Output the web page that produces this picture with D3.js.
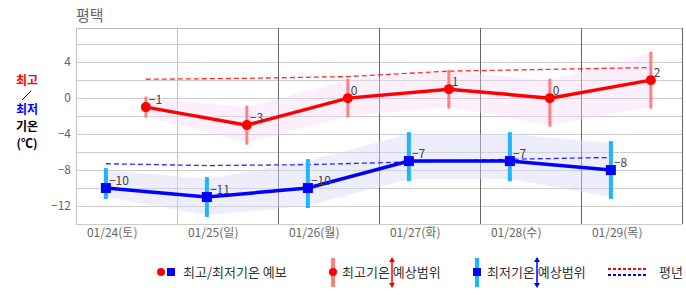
<!DOCTYPE html>
<html>
<head>
<meta charset="utf-8">
<script src="https://cdn.jsdelivr.net/npm/d3@7"></script>
<style>
  body { margin: 0; background: #fff; }
  text { font-family: "Noto Sans CJK KR", "DejaVu Sans", sans-serif; }
</style>
</head>
<body>
<svg id="chart"></svg>
<script>
// data
const days = ['01/24(토)', '01/25(일)', '01/26(월)', '01/27(화)', '01/28(수)', '01/29(목)'];
const maxTemp = [-1, -3, 0, 1, 0, 2];
const minTemp = [-10, -11, -10, -7, -7, -8];
const maxLow = [-2, -5, -2, -1, -3, -1];
const maxHigh = [0, -1, 2, 3, 2, 5];
const minLow = [-11, -13, -12, -9, -9, -11];
const minHigh = [-8, -9, -7, -4, -4, -5];
const normMax = [2.1, 2.2, 2.4, 3.0, 3.2, 3.4];
const normMin = [-7.3, -7.5, -7.4, -7.1, -6.8, -6.6];
const yTicks = [4, 0, -4, -8, -12];
const minHour = 7.1, maxHour = 16.6, labelHour = 8.6;

const width = 686, height = 295;
const svg = d3.select('#chart').attr('width', width).attr('height', height);

const x = d3.scaleLinear().domain([0, 24 * days.length]).range([76, 682]);
const y = d3.scaleLinear().domain([-14, 7.8]).range([224, 28]);

const rows = days.map((d, i) => ({
    i, day: d,
    xmin: x(i * 24 + minHour), xmax: x(i * 24 + maxHour),
    tmax: maxTemp[i], tmin: minTemp[i],
    maxLow: maxLow[i], maxHigh: maxHigh[i],
    minLow: minLow[i], minHigh: minHigh[i],
    nmax: normMax[i], nmin: normMin[i]
}));

// grid
const grid = svg.append('g');
grid.selectAll('.hgrid')
    .data(d3.range(-14, 8, 2))
    .join('line')
    .attr('x1', 76).attr('x2', 682)
    .attr('y1', d => Math.round(y(d)) + 0.5).attr('y2', d => Math.round(y(d)) + 0.5)
    .attr('stroke', '#cccccc');
grid.append('line')
    .attr('x1', 76).attr('x2', 682).attr('y1', 28.5).attr('y2', 28.5)
    .attr('stroke', '#bbbbbb');
grid.selectAll('.vgrid')
    .data(d3.range(0, days.length + 1))
    .join('line')
    .attr('x1', d => Math.round(x(d * 24)) + 0.5).attr('x2', d => Math.round(x(d * 24)) + 0.5)
    .attr('y1', 28).attr('y2', 224)
    .attr('stroke', d => d < 2 ? '#c4c4c4' : '#666666');

// range bands
svg.append('path')
    .datum(rows)
    .attr('fill', '#f7d6f7').attr('fill-opacity', 0.4)
    .attr('d', d3.area().x(d => d.xmax).y0(d => y(d.maxLow)).y1(d => y(d.maxHigh)));
svg.append('path')
    .datum(rows)
    .attr('fill', '#d8d8f7').attr('fill-opacity', 0.45)
    .attr('d', d3.area().x(d => d.xmin).y0(d => y(d.minLow)).y1(d => y(d.minHigh)));

// normal lines
svg.append('path')
    .datum(rows)
    .attr('fill', 'none').attr('stroke', '#ff2a2a').attr('stroke-width', 1.3)
    .attr('stroke-dasharray', '5,3')
    .attr('d', d3.line().x(d => d.xmax).y(d => y(d.nmax)));
svg.append('path')
    .datum(rows)
    .attr('fill', 'none').attr('stroke', '#2a2aff').attr('stroke-width', 1.3)
    .attr('stroke-dasharray', '5,3')
    .attr('d', d3.line().x(d => d.xmin).y(d => y(d.nmin)));

// range bars
svg.selectAll('.maxbar')
    .data(rows)
    .join('line')
    .attr('x1', d => d.xmax).attr('x2', d => d.xmax)
    .attr('y1', d => y(d.maxHigh)).attr('y2', d => y(d.maxLow))
    .attr('stroke', '#ff8080').attr('stroke-width', 3).attr('stroke-linecap', 'square');
svg.selectAll('.minbar')
    .data(rows)
    .join('line')
    .attr('x1', d => d.xmin).attr('x2', d => d.xmin)
    .attr('y1', d => y(d.minHigh)).attr('y2', d => y(d.minLow))
    .attr('stroke', '#1eb4ff').attr('stroke-width', 4).attr('stroke-linecap', 'square');

// main lines
svg.append('path')
    .datum(rows)
    .attr('fill', 'none').attr('stroke', '#ff0000').attr('stroke-width', 3.5)
    .attr('d', d3.line().x(d => d.xmax).y(d => y(d.tmax)));
svg.append('path')
    .datum(rows)
    .attr('fill', 'none').attr('stroke', '#0000ff').attr('stroke-width', 3.5)
    .attr('d', d3.line().x(d => d.xmin).y(d => y(d.tmin)));

svg.selectAll('.maxdot')
    .data(rows)
    .join('circle')
    .attr('cx', d => d.xmax).attr('cy', d => y(d.tmax)).attr('r', 5)
    .attr('fill', '#ff0000');
svg.selectAll('.mindot')
    .data(rows)
    .join('rect')
    .attr('x', d => d.xmin - 5).attr('y', d => y(d.tmin) - 5)
    .attr('width', 10).attr('height', 10)
    .attr('fill', '#0000ff');

// value labels
const fmt = v => (v < 0 ? '−' : '') + Math.abs(v);
svg.selectAll('.maxlab')
    .data(rows)
    .join('text')
    .attr('x', d => d.xmax + 3).attr('y', d => y(d.tmax) - 3)
    .attr('font-size', 12).attr('fill', '#444')
    .text(d => fmt(d.tmax));
svg.selectAll('.minlab')
    .data(rows)
    .join('text')
    .attr('x', d => d.xmin + 3).attr('y', d => y(d.tmin) - 3)
    .attr('font-size', 12).attr('fill', '#444')
    .text(d => fmt(d.tmin));

// axes labels
svg.selectAll('.ytick')
    .data(yTicks)
    .join('text')
    .attr('x', 71).attr('y', d => y(d) + 4)
    .attr('text-anchor', 'end').attr('font-size', 12).attr('fill', '#666')
    .text(d => fmt(d));
svg.selectAll('.xtick')
    .data(rows)
    .join('text')
    .attr('x', d => x(d.i * 24 + labelHour)).attr('y', 237)
    .attr('text-anchor', 'middle').attr('font-size', 12).attr('fill', '#666')
    .text(d => d.day);

svg.append('text')
    .attr('x', 76).attr('y', 21)
    .attr('font-size', 15).attr('fill', '#666')
    .text('평택');

// left label
const side = [
    {t: '최고', c: '#ff0000', y: 85},
    {t: '최저', c: '#0000ff', y: 114},
    {t: '기온', c: '#000', y: 131},
    {t: '(℃)', c: '#000', y: 148}
];
svg.selectAll('.side')
    .data(side)
    .join('text')
    .attr('x', 27).attr('y', d => d.y)
    .attr('text-anchor', 'middle').attr('font-size', 12).attr('font-weight', 'bold')
    .attr('fill', d => d.c)
    .text(d => d.t);
svg.append('line')
    .attr('x1', 22).attr('y1', 100).attr('x2', 31).attr('y2', 91)
    .attr('stroke', '#000').attr('stroke-width', 1);

// legend
const leg = svg.append('g').attr('font-size', 13).attr('fill', '#333');
const ly = 272;
leg.append('circle').attr('cx', 161).attr('cy', ly).attr('r', 4).attr('fill', '#ff0000');
leg.append('rect').attr('x', 167).attr('y', ly - 4).attr('width', 8).attr('height', 8).attr('fill', '#0000ff');
leg.append('text').attr('x', 183).attr('y', ly + 5).text('최고/최저기온 예보');

leg.append('line').attr('x1', 333).attr('x2', 333).attr('y1', 258).attr('y2', 287)
    .attr('stroke', '#ff8080').attr('stroke-width', 4);
leg.append('circle').attr('cx', 333).attr('cy', ly).attr('r', 4).attr('fill', '#ff0000');
leg.append('text').attr('x', 342).attr('y', ly + 5).text('최고기온 예상범위');

leg.append('line').attr('x1', 477).attr('x2', 477).attr('y1', 258).attr('y2', 287)
    .attr('stroke', '#1eb4ff').attr('stroke-width', 4);
leg.append('rect').attr('x', 473).attr('y', ly - 4).attr('width', 8).attr('height', 8).attr('fill', '#0000ff');
leg.append('text').attr('x', 487).attr('y', ly + 5).text('최저기온 예상범위');

function arrow(cx, col) {
    leg.append('line').attr('x1', cx).attr('x2', cx).attr('y1', 260).attr('y2', 285)
        .attr('stroke', col).attr('stroke-width', 1.5);
    leg.append('path').attr('d', `M${cx - 3},${262} L${cx},${257} L${cx + 3},${262} Z`).attr('fill', col);
    leg.append('path').attr('d', `M${cx - 3},${283} L${cx},${288} L${cx + 3},${283} Z`).attr('fill', col);
}
arrow(392, '#ff0000');
arrow(537, '#0000ff');

leg.append('line').attr('x1', 608).attr('x2', 648).attr('y1', 269).attr('y2', 269)
    .attr('stroke', '#ff0000').attr('stroke-width', 2).attr('stroke-dasharray', '3,2');
leg.append('line').attr('x1', 608).attr('x2', 648).attr('y1', 275).attr('y2', 275)
    .attr('stroke', '#0000ff').attr('stroke-width', 2).attr('stroke-dasharray', '3,2');
leg.append('text').attr('x', 659).attr('y', ly + 5).text('평년');
</script>
</body>
</html>
